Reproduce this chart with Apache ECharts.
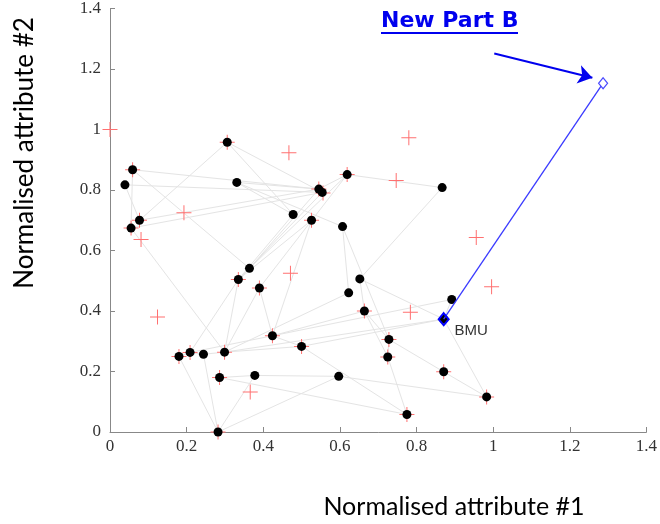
<!DOCTYPE html>
<html><head><meta charset="utf-8">
<script src="https://cdn.jsdelivr.net/npm/echarts@6/dist/echarts.min.js"></script>
<style>html,body{margin:0;padding:0;background:#fff}#c{width:660px;height:524px}</style>
</head><body><div id="c"></div>
<script>
// SOM neurons (black dots)
var neuronX = [0.306,0.059,0.039,0.331,0.478,0.077,0.055,0.364,0.335,0.867,0.619,0.545,0.554,0.526,0.607,0.652,0.390,0.424,0.500,0.180,0.209,0.244,0.299,0.286,0.378,0.282,0.623,0.664,0.892,0.871,0.728,0.725,0.597,0.871,0.983,0.775];
var neuronY = [0.958,0.867,0.817,0.825,0.719,0.700,0.674,0.541,0.504,0.808,0.851,0.803,0.792,0.700,0.679,0.506,0.476,0.318,0.283,0.250,0.263,0.257,0.264,0.180,0.187,0.000,0.460,0.400,0.438,0.373,0.306,0.248,0.184,0.199,0.116,0.058];
// Grid connections between neurons (index pairs)
var edges = [[0,5],[0,12],[0,4],[1,11],[1,6],[1,7],[2,12],[2,5],[3,11],[3,4],[3,14],[5,11],[6,12],[6,22],[10,9],[10,11],[10,16],[10,7],[9,15],[14,26],[14,30],[11,7],[12,8],[13,17],[13,8],[7,8],[8,22],[16,22],[16,17],[15,29],[15,27],[26,22],[27,30],[27,31],[28,29],[28,20],[29,22],[29,18],[29,34],[30,31],[30,33],[31,35],[32,34],[33,34],[32,24],[23,24],[25,32],[25,24],[19,25],[21,25],[19,20],[20,21],[21,22],[22,18],[18,17],[18,35],[20,8],[4,8],[27,17],[23,35]];
// Training data (red crosses)
var dataX = [0.306,0.059,0.077,0.055,0.335,0.619,0.545,0.556,0.526,0.390,0.424,0.500,0.180,0.209,0.299,0.286,0.282,0.664,0.728,0.725,0.871,0.983,0.775,0.000,0.467,0.193,0.081,0.471,0.780,0.747,0.956,0.124,0.366,0.784,0.996];
var dataY = [0.958,0.867,0.700,0.674,0.504,0.851,0.803,0.790,0.700,0.476,0.318,0.283,0.250,0.263,0.264,0.180,0.000,0.400,0.306,0.248,0.199,0.116,0.058,1.000,0.923,0.725,0.636,0.525,0.973,0.831,0.643,0.380,0.132,0.396,0.480];
// Best matching unit and new input
var bmu = [0.871, 0.373];
var newPart = [1.287, 1.153];
var arrowFrom = [1.003, 1.251];
var arrowTo = [1.259, 1.171];
var xTicks = [0,0.2,0.4,0.6,0.8,1,1.2,1.4];
var yTicks = [0,0.2,0.4,0.6,0.8,1,1.2,1.4];

function tickFmt(ticks){ return function(v){ for (var i=0;i<ticks.length;i++){ if (Math.abs(ticks[i]-v)<1e-6) return String(ticks[i]); } return ''; }; }

var neurons = neuronX.map(function(x,i){ return [x, neuronY[i]]; });
var crosses = dataX.map(function(x,i){ return [x, dataY[i]]; });
var edgeData = edges.map(function(e){ return {coords:[neurons[e[0]], neurons[e[1]]]}; });

var chart = echarts.init(document.getElementById('c'), null, {renderer:'canvas'});
var axisCommon = {
  type:'value', min:0, max:1.4, interval:0.2,
  axisLine:{show:true, lineStyle:{color:'#888', width:1}},
  axisTick:{show:true, inside:true, length:5, lineStyle:{color:'#888'}},
  splitLine:{show:false},
  axisLabel:{color:'#333', fontFamily:'Liberation Serif', fontSize:17}
};
chart.setOption({
  animation:false,
  backgroundColor:'#fff',
  grid:{left:110, right:13, top:8, bottom:92},
  xAxis: Object.assign({}, axisCommon, {axisLabel:Object.assign({}, axisCommon.axisLabel, {margin:6, formatter:tickFmt(xTicks)})}),
  yAxis: Object.assign({}, axisCommon, {axisLabel:Object.assign({}, axisCommon.axisLabel, {margin:9, formatter:tickFmt(yTicks)})}),
  graphic:[
    {type:'text', x:25, y:153, rotation:Math.PI/2, style:{text:'Normalised attribute #2', fontFamily:'Lato', fontSize:26, fill:'#000', align:'center', verticalAlign:'middle'}},
    {type:'text', x:454, y:507, style:{text:'Normalised attribute #1', fontFamily:'Lato', fontSize:25, fill:'#000', align:'center', verticalAlign:'middle'}},
    {type:'text', x:381, y:21, style:{text:'New Part B', fontFamily:'DejaVu Sans', fontWeight:'bold', fontSize:22, fill:'#0000ee', align:'left', verticalAlign:'middle'}},
    {type:'line', shape:{x1:381, y1:33, x2:518, y2:33}, style:{stroke:'#0000ee', lineWidth:2}}
  ],
  series:[
    {type:'lines', coordinateSystem:'cartesian2d', silent:true, z:1, data:edgeData,
     lineStyle:{color:'#e4e4e4', width:1, opacity:1}},
    {type:'scatter', silent:true, z:2, data:crosses, symbol:'path://M0,7h15v1h-15z M7,0h1v15h-1z', symbolSize:15,
     itemStyle:{color:'#ff7070', opacity:1}},
    {type:'scatter', silent:true, z:3, data:neurons, symbol:'circle', symbolSize:9,
     itemStyle:{color:'#000', opacity:1}},
    {type:'line', silent:true, z:4, data:[bmu, newPart], symbol:'none',
     lineStyle:{color:'#3a3aff', width:1.3}},
    {type:'scatter', silent:true, z:5, data:[newPart], symbol:'diamond', symbolSize:[9,11],
     itemStyle:{color:'#fff', borderColor:'#4a4aff', borderWidth:1.2, opacity:1}},
    {type:'scatter', silent:true, z:5, data:[bmu], symbol:'diamond', symbolSize:[10,12],
     itemStyle:{color:'rgba(0,0,0,0)', borderColor:'#0000ff', borderWidth:2, opacity:1},
     label:{show:true, formatter:'BMU', position:'right', distance:5, offset:[0,12], color:'#333', fontFamily:'Liberation Sans', fontSize:15}},
    {type:'lines', coordinateSystem:'cartesian2d', silent:true, z:6, data:[{coords:[arrowFrom, arrowTo]}],
     symbol:['none','arrow'], symbolSize:14, lineStyle:{color:'#0000ee', width:2, opacity:1}}
  ]
});
</script></body></html>
